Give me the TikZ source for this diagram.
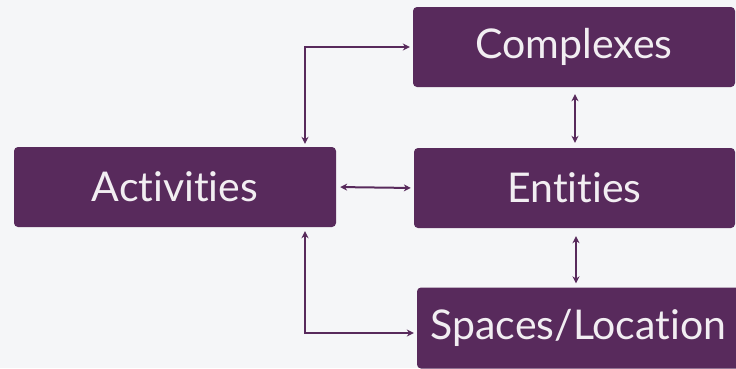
\documentclass[tikz,border=0pt]{standalone}
\usepackage{fontspec}
\setmainfont[Ligatures={NoCommon}]{Lato}
\usetikzlibrary{arrows.meta}
\definecolor{boxpurple}{HTML}{582A5C}
\definecolor{bggray}{HTML}{F5F6F8}
\begin{document}
\begin{tikzpicture}[x=1pt,y=-1pt,
  box/.style={fill=boxpurple, rounded corners=4pt, text=white!92!boxpurple,
    inner sep=0pt, minimum height=80pt, font=\fontsize{41}{48}\selectfont},
  conn/.style={draw=boxpurple, line width=2pt,
    {Stealth[length=7pt,width=7pt]}-{Stealth[length=7pt,width=7pt]}}]
\fill[bggray] (0,0) rectangle (736,368);
\useasboundingbox (0,0) rectangle (736,368);
\node[box, minimum width=322pt] (act) at (175,187) {Activities};
\node[box, minimum width=322pt] (comp) at (574,47) {Complexes};
\node[box, minimum width=321pt] (ent) at (574.5,188) {Entities};
\node[box, minimum width=323pt, minimum height=81pt] (spc) at (578.5,328) {Spaces/Location};
\coordinate (c1) at (305,47);
\coordinate (c2) at (305,333);
\draw[conn, shorten <=3pt, shorten >=3pt] (c1 |- act.north) -- (c1) -- (comp.west);
\draw[conn, shorten <=4pt, shorten >=3pt] (c2 |- act.south) -- (c2) -- (c2 -| spc.west);
\draw[conn, shorten <=4pt, shorten >=3pt] (act.east) -- (ent.west);
\draw[conn, shorten <=7pt, shorten >=5pt] ([xshift=1pt]comp.south) -- ([xshift=0.5pt]ent.north);
\draw[conn, shorten <=8pt, shorten >=4pt] ([xshift=1.5pt]ent.south) -- ([xshift=1.5pt]ent.south |- spc.north);
\end{tikzpicture}
\end{document}
